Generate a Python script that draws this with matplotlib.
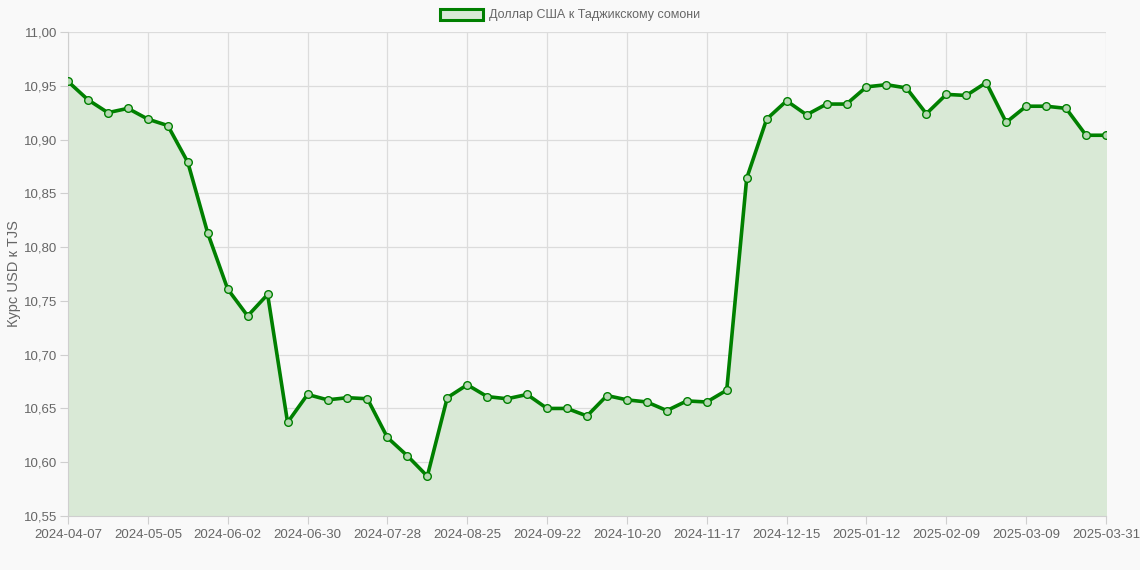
import matplotlib.pyplot as plt
from matplotlib.patches import Patch
from matplotlib.ticker import FuncFormatter, FixedLocator

plt.rcParams['font.family'] = ['Liberation Sans', 'DejaVu Sans']

# Weekly USD -> TJS rate
dates = [
    "2024-04-07", "2024-04-14", "2024-04-21", "2024-04-28", "2024-05-05", "2024-05-12",
    "2024-05-19", "2024-05-26", "2024-06-02", "2024-06-09", "2024-06-16", "2024-06-23",
    "2024-06-30", "2024-07-07", "2024-07-14", "2024-07-21", "2024-07-28", "2024-08-04",
    "2024-08-11", "2024-08-18", "2024-08-25", "2024-09-01", "2024-09-08", "2024-09-15",
    "2024-09-22", "2024-09-29", "2024-10-06", "2024-10-13", "2024-10-20", "2024-10-27",
    "2024-11-03", "2024-11-10", "2024-11-17", "2024-11-24", "2024-12-01", "2024-12-08",
    "2024-12-15", "2024-12-22", "2024-12-29", "2025-01-05", "2025-01-12", "2025-01-19",
    "2025-01-26", "2025-02-02", "2025-02-09", "2025-02-16", "2025-02-23", "2025-03-02",
    "2025-03-09", "2025-03-16", "2025-03-23", "2025-03-30", "2025-03-31",
]
rates = [
    10.954, 10.937, 10.925, 10.929, 10.919, 10.913, 10.879, 10.813, 10.761, 10.736,
    10.756, 10.637, 10.663, 10.658, 10.660, 10.659, 10.623, 10.606, 10.587, 10.660,
    10.672, 10.661, 10.659, 10.663, 10.650, 10.650, 10.643, 10.662, 10.658, 10.656,
    10.648, 10.657, 10.656, 10.667, 10.864, 10.919, 10.936, 10.923, 10.933, 10.933,
    10.949, 10.951, 10.948, 10.924, 10.942, 10.941, 10.953, 10.916, 10.931, 10.931,
    10.929, 10.904, 10.904,
]
label = "Доллар США к Таджикскому сомони"

bg = "#f9f9f9"
green = "#008000"
fill = "#d9e9d6"
txt = "#666666"

fig = plt.figure(figsize=(11.4, 5.7), dpi=100, facecolor=bg)
ax = fig.add_axes([68 / 1140, 1 - 516 / 570, (1106 - 68) / 1140, (516 - 32) / 570])
ax.set_facecolor(bg)

x = list(range(len(dates)))
ax.fill_between(x, rates, 10.55, color=fill, zorder=1)
ax.plot(x, rates, color=green, lw=2.6, zorder=3, solid_joinstyle='round',
        marker='o', ms=5.5, mfc="#b5d8b2", mec=green, mew=1.0)

ax.set_xlim(0, len(dates) - 1)
ax.set_ylim(10.55, 11.0)

tick_idx = list(range(0, len(dates) - 1, 4)) + [len(dates) - 1]
ax.xaxis.set_major_locator(FixedLocator(tick_idx))
ax.set_xticklabels([dates[i] for i in tick_idx])
ax.set_yticks([10.55 + 0.05 * i for i in range(10)])
ax.yaxis.set_major_formatter(FuncFormatter(lambda v, p: f"{v:.2f}".replace(".", ",")))

ax.grid(True, color="#dcdcdc", lw=0.9, zorder=0)
ax.set_axisbelow(True)
for s in ["top", "right"]:
    ax.spines[s].set_visible(False)
ax.spines["left"].set_color("#cfcfcf")
ax.spines["bottom"].set_color("#cfcfcf")
ax.tick_params(axis='x', colors="#cfcfcf", labelcolor=txt, labelsize=9.5, length=6, pad=3)
ax.tick_params(axis='y', colors="#cfcfcf", labelcolor=txt, labelsize=9.5, length=6, pad=2)

ax.set_ylabel("Курс USD к TJS", color=txt, fontsize=10.5)
ax.yaxis.set_label_coords(-47 / 1038, 0.5)

handle = Patch(facecolor=fill, edgecolor=green, lw=2.2)
fig.legend([handle], [label], loc='center', bbox_to_anchor=(0.5, 1 - 15 / 570),
           frameon=False, fontsize=9, labelcolor=txt, handlelength=3.4, handleheight=1.0,
           handletextpad=0.5)

plt.savefig("out.png", dpi=100, facecolor=bg)
